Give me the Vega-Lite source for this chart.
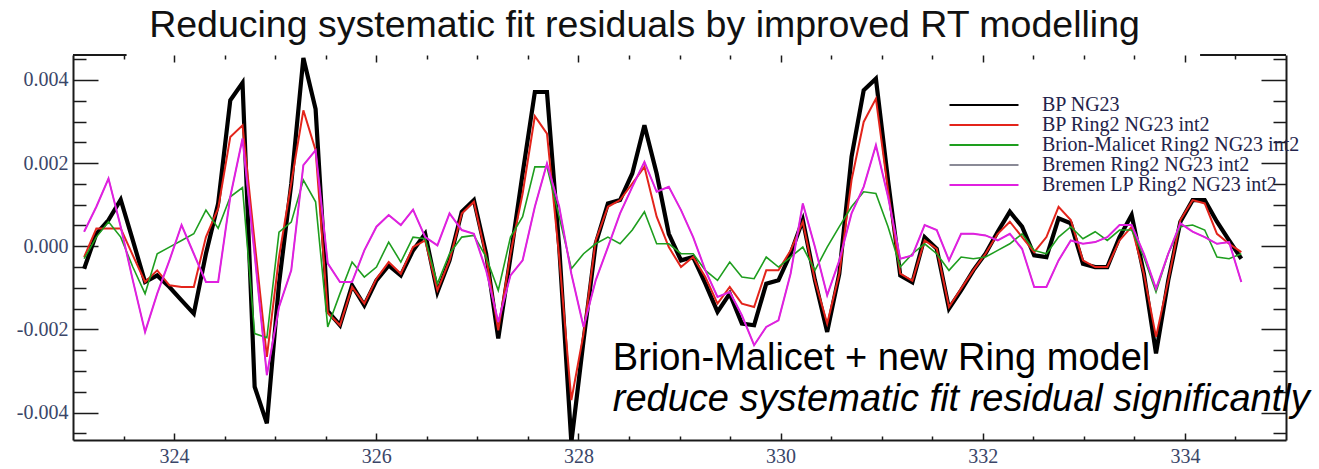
{
  "$schema": "https://vega.github.io/schema/vega-lite/v6.json",
  "width": 1213,
  "height": 385,
  "autosize": {"type": "none"},
  "padding": {"left": 73, "top": 55, "right": 33, "bottom": 29},
  "background": "#ffffff",
  "title": {
    "text": "Reducing systematic fit residuals by improved RT modelling",
    "font": "Liberation Sans",
    "fontSize": 37.5,
    "fontWeight": "normal",
    "color": "#111111",
    "anchor": "middle",
    "dx": -35,
    "dy": 37,
    "offset": 17,
    "baseline": "alphabetic"
  },
  "config": {"view": {"stroke": null}},
  "datasets": {
    "residuals": [
      {"x": 323.110, "bp": -0.00054, "ring": -0.00026, "bm": -0.00030, "lp": 0.00035},
      {"x": 323.231, "bp": 0.00030, "ring": 0.00043, "bm": 0.00022, "lp": 0.00095},
      {"x": 323.351, "bp": 0.00063, "ring": 0.00043, "bm": 0.00059, "lp": 0.00163},
      {"x": 323.472, "bp": 0.00112, "ring": 0.00043, "bm": 0.00022, "lp": 0.00047},
      {"x": 323.592, "bp": 0.00014, "ring": -0.00022, "bm": -0.00050, "lp": -0.00082},
      {"x": 323.713, "bp": -0.00086, "ring": -0.00086, "bm": -0.00114, "lp": -0.00206},
      {"x": 323.833, "bp": -0.00070, "ring": -0.00058, "bm": -0.00018, "lp": -0.00114},
      {"x": 323.954, "bp": -0.00098, "ring": -0.00094, "bm": -0.00002, "lp": -0.00034},
      {"x": 324.074, "bp": -0.00130, "ring": -0.00098, "bm": 0.00014, "lp": 0.00051},
      {"x": 324.195, "bp": -0.00162, "ring": -0.00098, "bm": 0.00030, "lp": -0.00018},
      {"x": 324.315, "bp": -0.00018, "ring": 0.00022, "bm": 0.00087, "lp": -0.00086},
      {"x": 324.436, "bp": 0.00103, "ring": 0.00091, "bm": 0.00043, "lp": -0.00086},
      {"x": 324.556, "bp": 0.00351, "ring": 0.00263, "bm": 0.00119, "lp": 0.00119},
      {"x": 324.677, "bp": 0.00393, "ring": 0.00291, "bm": 0.00141, "lp": 0.00259},
      {"x": 324.797, "bp": -0.00338, "ring": 0.00010, "bm": -0.00210, "lp": -0.00020},
      {"x": 324.918, "bp": -0.00426, "ring": -0.00266, "bm": -0.00220, "lp": -0.00310},
      {"x": 325.038, "bp": -0.00090, "ring": -0.00026, "bm": 0.00034, "lp": -0.00146},
      {"x": 325.159, "bp": 0.00150, "ring": 0.00152, "bm": 0.00058, "lp": -0.00058},
      {"x": 325.279, "bp": 0.00453, "ring": 0.00327, "bm": 0.00159, "lp": 0.00195},
      {"x": 325.400, "bp": 0.00330, "ring": 0.00231, "bm": 0.00107, "lp": 0.00231},
      {"x": 325.520, "bp": -0.00156, "ring": -0.00160, "bm": -0.00194, "lp": -0.00041},
      {"x": 325.641, "bp": -0.00190, "ring": -0.00190, "bm": -0.00114, "lp": -0.00086},
      {"x": 325.761, "bp": -0.00094, "ring": -0.00098, "bm": -0.00038, "lp": -0.00086},
      {"x": 325.882, "bp": -0.00142, "ring": -0.00138, "bm": -0.00074, "lp": -0.00010},
      {"x": 326.002, "bp": -0.00082, "ring": -0.00078, "bm": -0.00050, "lp": 0.00047},
      {"x": 326.123, "bp": -0.00046, "ring": -0.00038, "bm": 0.00010, "lp": 0.00075},
      {"x": 326.243, "bp": -0.00070, "ring": -0.00066, "bm": -0.00038, "lp": 0.00051},
      {"x": 326.364, "bp": -0.00010, "ring": -0.00002, "bm": 0.00022, "lp": 0.00088},
      {"x": 326.484, "bp": 0.00030, "ring": 0.00014, "bm": 0.00018, "lp": 0.00022},
      {"x": 326.605, "bp": -0.00110, "ring": -0.00106, "bm": -0.00090, "lp": 0.00002},
      {"x": 326.725, "bp": -0.00034, "ring": -0.00034, "bm": -0.00018, "lp": 0.00079},
      {"x": 326.846, "bp": 0.00083, "ring": 0.00079, "bm": 0.00022, "lp": 0.00039},
      {"x": 326.966, "bp": 0.00111, "ring": 0.00107, "bm": 0.00026, "lp": 0.00030},
      {"x": 327.087, "bp": -0.00018, "ring": -0.00026, "bm": -0.00026, "lp": -0.00058},
      {"x": 327.207, "bp": -0.00222, "ring": -0.00202, "bm": -0.00106, "lp": -0.00182},
      {"x": 327.328, "bp": -0.00026, "ring": -0.00018, "bm": 0.00022, "lp": -0.00070},
      {"x": 327.448, "bp": 0.00175, "ring": 0.00127, "bm": 0.00071, "lp": -0.00034},
      {"x": 327.569, "bp": 0.00371, "ring": 0.00313, "bm": 0.00191, "lp": 0.00095},
      {"x": 327.689, "bp": 0.00371, "ring": 0.00271, "bm": 0.00191, "lp": 0.00199},
      {"x": 327.810, "bp": -0.00002, "ring": -0.00026, "bm": 0.00071, "lp": 0.00095},
      {"x": 327.930, "bp": -0.00472, "ring": -0.00370, "bm": -0.00054, "lp": -0.00066},
      {"x": 328.051, "bp": -0.00226, "ring": -0.00210, "bm": -0.00018, "lp": -0.00194},
      {"x": 328.171, "bp": 0.00006, "ring": 0.00014, "bm": 0.00006, "lp": -0.00082},
      {"x": 328.292, "bp": 0.00103, "ring": 0.00095, "bm": 0.00022, "lp": -0.00002},
      {"x": 328.412, "bp": 0.00111, "ring": 0.00111, "bm": 0.00006, "lp": 0.00079},
      {"x": 328.533, "bp": 0.00175, "ring": 0.00151, "bm": 0.00039, "lp": 0.00143},
      {"x": 328.653, "bp": 0.00291, "ring": 0.00191, "bm": 0.00083, "lp": 0.00203},
      {"x": 328.774, "bp": 0.00175, "ring": 0.00071, "bm": 0.00006, "lp": 0.00131},
      {"x": 328.894, "bp": 0.00030, "ring": -0.00002, "bm": 0.00006, "lp": 0.00143},
      {"x": 329.015, "bp": -0.00034, "ring": -0.00050, "bm": -0.00018, "lp": 0.00087},
      {"x": 329.135, "bp": -0.00026, "ring": -0.00026, "bm": -0.00018, "lp": 0.00022},
      {"x": 329.256, "bp": -0.00090, "ring": -0.00074, "bm": -0.00058, "lp": -0.00058},
      {"x": 329.376, "bp": -0.00158, "ring": -0.00138, "bm": -0.00082, "lp": -0.00122},
      {"x": 329.497, "bp": -0.00114, "ring": -0.00098, "bm": -0.00038, "lp": -0.00110},
      {"x": 329.617, "bp": -0.00186, "ring": -0.00138, "bm": -0.00074, "lp": -0.00166},
      {"x": 329.738, "bp": -0.00190, "ring": -0.00146, "bm": -0.00078, "lp": -0.00238},
      {"x": 329.858, "bp": -0.00090, "ring": -0.00058, "bm": -0.00026, "lp": -0.00194},
      {"x": 329.979, "bp": -0.00082, "ring": -0.00058, "bm": -0.00050, "lp": -0.00178},
      {"x": 330.099, "bp": -0.00018, "ring": -0.00010, "bm": -0.00026, "lp": -0.00066},
      {"x": 330.220, "bp": 0.00063, "ring": 0.00059, "bm": -0.00002, "lp": 0.00103},
      {"x": 330.340, "bp": -0.00082, "ring": -0.00082, "bm": -0.00058, "lp": -0.00002},
      {"x": 330.461, "bp": -0.00206, "ring": -0.00186, "bm": -0.00002, "lp": -0.00118},
      {"x": 330.581, "bp": -0.00066, "ring": -0.00066, "bm": 0.00047, "lp": -0.00034},
      {"x": 330.702, "bp": 0.00215, "ring": 0.00159, "bm": 0.00095, "lp": 0.00079},
      {"x": 330.822, "bp": 0.00375, "ring": 0.00299, "bm": 0.00131, "lp": 0.00143},
      {"x": 330.943, "bp": 0.00403, "ring": 0.00355, "bm": 0.00127, "lp": 0.00243},
      {"x": 331.063, "bp": 0.00159, "ring": 0.00135, "bm": 0.00047, "lp": 0.00119},
      {"x": 331.184, "bp": -0.00070, "ring": -0.00066, "bm": -0.00050, "lp": -0.00030},
      {"x": 331.304, "bp": -0.00087, "ring": -0.00083, "bm": -0.00018, "lp": -0.00022},
      {"x": 331.425, "bp": 0.00022, "ring": 0.00014, "bm": 0.00006, "lp": 0.00051},
      {"x": 331.545, "bp": -0.00006, "ring": -0.00006, "bm": -0.00018, "lp": 0.00039},
      {"x": 331.666, "bp": -0.00150, "ring": -0.00146, "bm": -0.00058, "lp": -0.00034},
      {"x": 331.786, "bp": -0.00106, "ring": -0.00102, "bm": -0.00026, "lp": 0.00030},
      {"x": 331.907, "bp": -0.00058, "ring": -0.00058, "bm": -0.00030, "lp": 0.00030},
      {"x": 332.027, "bp": -0.00018, "ring": -0.00018, "bm": -0.00026, "lp": 0.00026},
      {"x": 332.148, "bp": 0.00035, "ring": 0.00030, "bm": -0.00010, "lp": 0.00014},
      {"x": 332.268, "bp": 0.00083, "ring": 0.00059, "bm": 0.00006, "lp": 0.00030},
      {"x": 332.389, "bp": 0.00047, "ring": 0.00022, "bm": 0.00030, "lp": -0.00006},
      {"x": 332.509, "bp": -0.00022, "ring": -0.00014, "bm": -0.00010, "lp": -0.00098},
      {"x": 332.630, "bp": -0.00026, "ring": 0.00022, "bm": -0.00018, "lp": -0.00098},
      {"x": 332.750, "bp": 0.00067, "ring": 0.00095, "bm": 0.00022, "lp": -0.00034},
      {"x": 332.871, "bp": 0.00055, "ring": 0.00063, "bm": 0.00047, "lp": 0.00014},
      {"x": 332.991, "bp": -0.00042, "ring": -0.00034, "bm": 0.00018, "lp": 0.00006},
      {"x": 333.112, "bp": -0.00050, "ring": -0.00050, "bm": 0.00035, "lp": 0.00010},
      {"x": 333.232, "bp": -0.00050, "ring": -0.00050, "bm": 0.00014, "lp": 0.00022},
      {"x": 333.353, "bp": 0.00022, "ring": 0.00014, "bm": 0.00039, "lp": 0.00051},
      {"x": 333.473, "bp": 0.00075, "ring": 0.00047, "bm": 0.00039, "lp": 0.00051},
      {"x": 333.594, "bp": -0.00066, "ring": -0.00066, "bm": -0.00026, "lp": -0.00018},
      {"x": 333.714, "bp": -0.00258, "ring": -0.00218, "bm": -0.00110, "lp": -0.00102},
      {"x": 333.835, "bp": -0.00082, "ring": -0.00082, "bm": -0.00018, "lp": -0.00018},
      {"x": 333.955, "bp": 0.00059, "ring": 0.00063, "bm": 0.00047, "lp": 0.00055},
      {"x": 334.076, "bp": 0.00111, "ring": 0.00111, "bm": 0.00051, "lp": 0.00035},
      {"x": 334.196, "bp": 0.00111, "ring": 0.00103, "bm": 0.00039, "lp": 0.00022},
      {"x": 334.317, "bp": 0.00059, "ring": 0.00030, "bm": -0.00026, "lp": 0.00006},
      {"x": 334.437, "bp": 0.00014, "ring": 0.00006, "bm": -0.00030, "lp": 0.00010},
      {"x": 334.558, "bp": -0.00030, "ring": -0.00014, "bm": -0.00018, "lp": -0.00086}
    ]
  },
  "data": {"name": "residuals"},
  "resolve": {"axis": {"x": "independent", "y": "independent"}},
  "layer": [
    {
      "mark": {"type": "point", "opacity": 0},
      "encoding": {
        "x": {
          "field": "x", "type": "quantitative",
          "scale": {"domain": [323, 335], "nice": false, "zero": false},
          "axis": {
            "orient": "bottom", "values": [324, 326, 328, 330, 332, 334], "format": "d",
            "title": null, "grid": false,
            "tickSize": -7, "tickWidth": 1.5, "tickColor": "#1a1a1a",
            "domain": true, "domainColor": "#1a1a1a", "domainWidth": 2,
            "labelFont": "Liberation Serif", "labelFontSize": 20, "labelColor": "#3a4668",
            "labelPadding": 13, "labelFlush": false, "labelOverlap": false
          }
        },
        "y": {
          "field": "bp", "type": "quantitative",
          "scale": {"domain": [-0.00466, 0.0046], "nice": false, "zero": false},
          "axis": {
            "orient": "left", "values": [-0.004, -0.002, 0, 0.002, 0.004],
            "labelExpr": "datum.value < 0 ? '-' + format(-datum.value, '.3f') : format(datum.value, '.3f')",
            "title": null, "grid": false,
            "tickSize": -25, "tickWidth": 1.5, "tickColor": "#1a1a1a",
            "domain": true, "domainColor": "#1a1a1a", "domainWidth": 2,
            "labelFont": "Liberation Serif", "labelFontSize": 20, "labelColor": "#3a4668",
            "labelPadding": 30, "labelFlush": false, "labelOverlap": false
          }
        }
      }
    },
    {
      "mark": {"type": "point", "opacity": 0},
      "encoding": {
        "x": {
          "field": "x", "type": "quantitative",
          "scale": {"domain": [323, 335], "nice": false, "zero": false},
          "axis": {
            "orient": "bottom",
            "values": [323.5, 324.5, 325, 325.5, 326.5, 327, 327.5, 328.5, 329, 329.5, 330.5, 331, 331.5, 332.5, 333, 333.5, 334.5],
            "title": null, "grid": false, "labels": false, "domain": false,
            "tickSize": -4, "tickWidth": 1.5, "tickColor": "#1a1a1a"
          }
        },
        "y": {
          "field": "bp", "type": "quantitative",
          "scale": {"domain": [-0.00466, 0.0046], "nice": false, "zero": false},
          "axis": {
            "orient": "left",
            "values": [-0.0045, -0.0035, -0.003, -0.0025, -0.0015, -0.001, -0.0005, 0.0005, 0.001, 0.0015, 0.0025, 0.003, 0.0035, 0.0045],
            "title": null, "grid": false, "labels": false, "domain": false,
            "tickSize": -13, "tickWidth": 1.5, "tickColor": "#1a1a1a"
          }
        }
      }
    },
    {
      "mark": {"type": "point", "opacity": 0},
      "encoding": {
        "x": {
          "field": "x", "type": "quantitative",
          "scale": {"domain": [323, 335], "nice": false, "zero": false},
          "axis": {
            "orient": "top", "values": [324, 326, 328, 330, 332, 334],
            "title": null, "grid": false, "labels": false, "domain": false,
            "tickSize": -7, "tickWidth": 1.5, "tickColor": "#1a1a1a"
          }
        },
        "y": {
          "field": "bp", "type": "quantitative",
          "scale": {"domain": [-0.00466, 0.0046], "nice": false, "zero": false},
          "axis": {
            "orient": "right", "values": [-0.004, -0.002, 0, 0.002, 0.004],
            "title": null, "grid": false, "labels": false,
            "domain": true, "domainColor": "#1a1a1a", "domainWidth": 2,
            "tickSize": -25, "tickWidth": 1.5, "tickColor": "#1a1a1a"
          }
        }
      }
    },
    {
      "mark": {"type": "point", "opacity": 0},
      "encoding": {
        "x": {
          "field": "x", "type": "quantitative",
          "scale": {"domain": [323, 335], "nice": false, "zero": false},
          "axis": {
            "orient": "top",
            "values": [323.5, 324.5, 325, 325.5, 326.5, 327, 327.5, 328.5, 329, 329.5, 330.5, 331, 331.5, 332.5, 333, 333.5, 334.5],
            "title": null, "grid": false, "labels": false, "domain": false,
            "tickSize": -4, "tickWidth": 1.5, "tickColor": "#1a1a1a"
          }
        },
        "y": {
          "field": "bp", "type": "quantitative",
          "scale": {"domain": [-0.00466, 0.0046], "nice": false, "zero": false},
          "axis": {
            "orient": "right",
            "values": [-0.0045, -0.0035, -0.003, -0.0025, -0.0015, -0.001, -0.0005, 0.0005, 0.001, 0.0015, 0.0025, 0.003, 0.0035, 0.0045],
            "title": null, "grid": false, "labels": false, "domain": false,
            "tickSize": -13, "tickWidth": 1.5, "tickColor": "#1a1a1a"
          }
        }
      }
    },
    {
      "data": {"values": [{}]},
      "mark": {"type": "rule", "color": "#1a1a1a", "strokeWidth": 2},
      "encoding": {
        "x": {"datum": 323, "type": "quantitative", "scale": {"domain": [323, 335], "nice": false, "zero": false}, "axis": null},
        "x2": {"datum": 323.53},
        "y": {"datum": 0.0046, "type": "quantitative", "scale": {"domain": [-0.00466, 0.0046], "nice": false, "zero": false}, "axis": null}
      }
    },
    {
      "data": {"values": [{}]},
      "mark": {"type": "rule", "color": "#1a1a1a", "strokeWidth": 2},
      "encoding": {
        "x": {"datum": 334.15, "type": "quantitative", "scale": {"domain": [323, 335], "nice": false, "zero": false}, "axis": null},
        "x2": {"datum": 335},
        "y": {"datum": 0.0046, "type": "quantitative", "scale": {"domain": [-0.00466, 0.0046], "nice": false, "zero": false}, "axis": null}
      }
    },
    {
      "mark": {"type": "line", "strokeWidth": 4.2, "clip": true},
      "encoding": {
        "x": {"field": "x", "type": "quantitative", "scale": {"domain": [323, 335], "nice": false, "zero": false}, "axis": null},
        "y": {"field": "bp", "type": "quantitative", "scale": {"domain": [-0.00466, 0.0046], "nice": false, "zero": false}, "axis": null},
        "color": {
          "datum": "BP NG23", "type": "nominal",
          "scale": {"domain": ["BP NG23", "BP Ring2 NG23 int2", "Brion-Malicet Ring2 NG23 int2", "Bremen Ring2 NG23 int2", "Bremen LP Ring2 NG23 int2"], "range": ["#000000", "#e3241b", "#1e9e1e", "#8a8a96", "#e020e0"]},
          "legend": {
            "title": null, "orient": "none", "legendX": 901, "legendY": 40,
            "symbolType": "M-4,0H4", "symbolSize": 297.6, "symbolStrokeWidth": 2,
            "labelFont": "Liberation Serif", "labelFontSize": 20, "labelColor": "#23234a",
            "labelOffset": 48, "rowPadding": 0, "labelLimit": 500
          }
        }
      }
    },
    {
      "mark": {"type": "line", "strokeWidth": 2, "clip": true},
      "encoding": {
        "x": {"field": "x", "type": "quantitative", "scale": {"domain": [323, 335], "nice": false, "zero": false}, "axis": null},
        "y": {"field": "ring", "type": "quantitative", "scale": {"domain": [-0.00466, 0.0046], "nice": false, "zero": false}, "axis": null},
        "color": {"datum": "BP Ring2 NG23 int2", "type": "nominal"}
      }
    },
    {
      "mark": {"type": "line", "strokeWidth": 1.6, "clip": true},
      "encoding": {
        "x": {"field": "x", "type": "quantitative", "scale": {"domain": [323, 335], "nice": false, "zero": false}, "axis": null},
        "y": {"field": "bm", "type": "quantitative", "scale": {"domain": [-0.00466, 0.0046], "nice": false, "zero": false}, "axis": null},
        "color": {"datum": "Brion-Malicet Ring2 NG23 int2", "type": "nominal"}
      }
    },
    {
      "mark": {"type": "line", "strokeWidth": 1.2, "clip": true},
      "encoding": {
        "x": {"field": "x", "type": "quantitative", "scale": {"domain": [323, 335], "nice": false, "zero": false}, "axis": null},
        "y": {"field": "lp", "type": "quantitative", "scale": {"domain": [-0.00466, 0.0046], "nice": false, "zero": false}, "axis": null},
        "color": {"datum": "Bremen Ring2 NG23 int2", "type": "nominal"}
      }
    },
    {
      "mark": {"type": "line", "strokeWidth": 2, "clip": true},
      "encoding": {
        "x": {"field": "x", "type": "quantitative", "scale": {"domain": [323, 335], "nice": false, "zero": false}, "axis": null},
        "y": {"field": "lp", "type": "quantitative", "scale": {"domain": [-0.00466, 0.0046], "nice": false, "zero": false}, "axis": null},
        "color": {"datum": "Bremen LP Ring2 NG23 int2", "type": "nominal"}
      }
    },
    {
      "data": {"values": [{}]},
      "mark": {"type": "text", "text": "Brion-Malicet + new Ring model", "font": "Liberation Sans", "fontSize": 38, "align": "left", "baseline": "alphabetic", "color": "#000000"},
      "encoding": {
        "x": {"datum": 328.34, "type": "quantitative", "scale": {"domain": [323, 335], "nice": false, "zero": false}, "axis": null},
        "y": {"datum": -0.00298, "type": "quantitative", "scale": {"domain": [-0.00466, 0.0046], "nice": false, "zero": false}, "axis": null}
      }
    },
    {
      "data": {"values": [{}]},
      "mark": {"type": "text", "text": "reduce systematic fit residual significantly", "font": "Liberation Sans", "fontSize": 38, "fontStyle": "italic", "align": "left", "baseline": "alphabetic", "color": "#000000"},
      "encoding": {
        "x": {"datum": 328.34, "type": "quantitative", "scale": {"domain": [323, 335], "nice": false, "zero": false}, "axis": null},
        "y": {"datum": -0.00397, "type": "quantitative", "scale": {"domain": [-0.00466, 0.0046], "nice": false, "zero": false}, "axis": null}
      }
    }
  ]
}
